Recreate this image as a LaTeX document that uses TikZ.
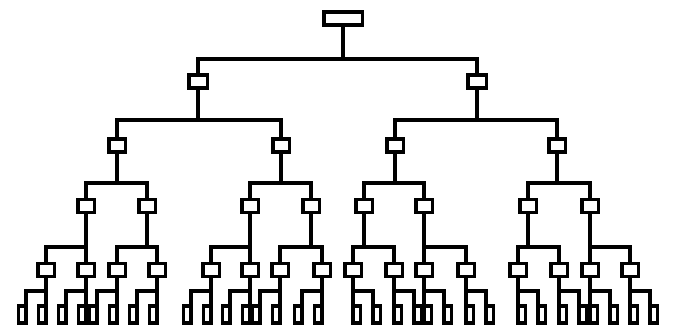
\documentclass[tikz,border=0pt]{standalone}
\begin{document}
\begin{tikzpicture}[x=1pt,y=-1pt,line width=3.5pt,line join=miter,
  box/.style={draw,rectangle,inner sep=0pt,outer sep=0pt,minimum width=16.5pt,minimum height=13pt},
  leafbox/.style={draw,rectangle,inner sep=0pt,outer sep=0pt,minimum width=7.5pt,minimum height=17pt}]
\useasboundingbox (0,0) rectangle (676,332);
% bar levels
\coordinate (h0) at (0,59);
\coordinate (h1) at (0,120);
\coordinate (h2) at (0,183);
\coordinate (h3) at (0,247);
\coordinate (h4) at (0,291);
% nodes
\node[box,minimum width=38.5pt] (r) at (343,18.5) {};
\node[box,minimum width=18.5pt] (a1) at (198,81.5) {};
\node[box,minimum width=18.5pt] (a2) at (477,81.5) {};
\foreach \n/\x in {1/117,2/281,3/395,4/557}
  \node[box] (b\n) at (\x,145.5) {};
\foreach \n/\x in {1/86,2/147,3/250,4/311,5/364,6/424,7/528,8/590}
  \node[box] (c\n) at (\x,206) {};
\foreach \n/\x in {1/46,2/86,3/117,4/157,5/211,6/250,7/280,8/322,9/353,10/394,11/424,12/466,13/518,14/559,15/590,16/630}
  \node[box] (d\n) at (\x,270) {};
% connectors
\foreach \p/\c in {r/a1,r/a2}
  \draw (\p.south) -- (\p.south |- h0) -| (\c.north);
\foreach \p/\c in {a1/b1,a1/b2,a2/b3,a2/b4}
  \draw (\p.south) -- (\p.south |- h1) -| (\c.north);
\foreach \p/\c in {b1/c1,b1/c2,b2/c3,b2/c4,b3/c5,b3/c6,b4/c7,b4/c8}
  \draw (\p.south) -- (\p.south |- h2) -| (\c.north);
\foreach \i in {1,...,8}{
  \pgfmathtruncatemacro\j{2*\i-1}
  \pgfmathtruncatemacro\k{2*\i}
  \draw (c\i.south) -- (c\i.south |- h3) -| (d\j.north);
  \draw (c\i.south) -- (c\i.south |- h3) -| (d\k.north);
}
% leaves, left half ("d" shapes)
\foreach \i/\x in {1/46,2/86,3/117,4/157,5/211,6/250,7/280,8/322}{
  \pgfmathtruncatemacro\j{2*\i-1}
  \pgfmathtruncatemacro\k{2*\i}
  \node[leafbox,anchor=north east] (e\j) at (\x-20,306) {};
  \node[leafbox,anchor=north east] (e\k) at (\x,306) {};
  \draw (d\i.south) -- (d\i.south |- h4) -| (e\j.north east);
  \draw (d\i.south) -- (d\i.south |- h4) -| (e\k.north east);
}
% leaves, right half ("b" shapes)
\foreach \i/\x in {9/353,10/394,11/424,12/466,13/518,14/559,15/590,16/630}{
  \pgfmathtruncatemacro\j{2*\i-1}
  \pgfmathtruncatemacro\k{2*\i}
  \node[leafbox,anchor=north west] (e\j) at (\x,306) {};
  \node[leafbox,anchor=north west] (e\k) at (\x+20,306) {};
  \draw (d\i.south) -- (d\i.south |- h4) -| (e\j.north west);
  \draw (d\i.south) -- (d\i.south |- h4) -| (e\k.north west);
}
\end{tikzpicture}
\end{document}
